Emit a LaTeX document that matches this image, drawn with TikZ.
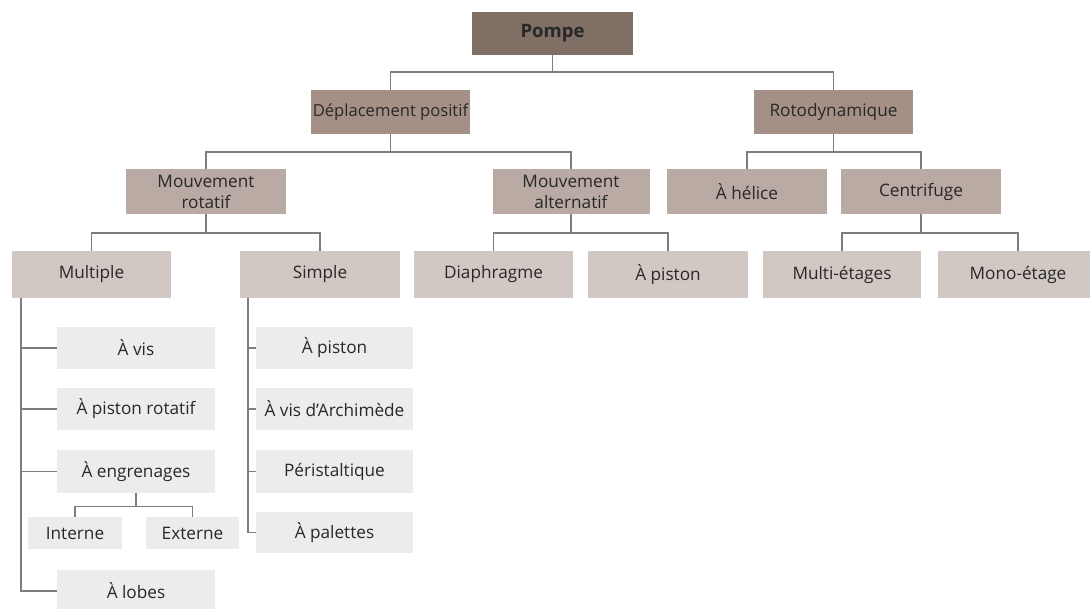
\documentclass[tikz,border=0pt]{standalone}
\usepackage{fontspec}
\setmainfont{Open Sans}
\definecolor{cz}{RGB}{128,111,100}
\definecolor{cone}{RGB}{165,144,135}
\definecolor{ctwo}{RGB}{185,170,163}
\definecolor{cthree}{RGB}{210,200,195}
\definecolor{cleaf}{RGB}{236,236,236}
\definecolor{cline}{RGB}{125,125,125}
\definecolor{ctext}{RGB}{40,40,40}
\begin{document}
\begin{tikzpicture}[x=1pt,y=-1pt,
  box/.style={inner sep=0pt, outer sep=0pt, align=center, text=ctext,
    font=\fontsize{17.2}{21}\selectfont, minimum height=44pt},
  lvlzero/.style={box, fill=cz, minimum width=161pt, minimum height=43pt,
    font=\fontsize{18.5}{21}\selectfont\bfseries},
  lvlone/.style={box, fill=cone, minimum width=159pt},
  lvltwo/.style={box, fill=ctwo, minimum width=159pt, minimum height=45pt},
  lvlthree/.style={box, fill=cthree, minimum width=159pt, minimum height=47pt},
  leaf/.style={box, fill=cleaf, minimum width=158pt, minimum height=42pt},
  smallleaf/.style={box, fill=cleaf, minimum width=94pt, minimum height=32pt},
  conn/.style={draw=cline, line width=1.1pt}]
\useasboundingbox[fill=white] (0,0) rectangle (1090,609);

\node[lvlzero] (pompe) at (552.5,33.5) {Pompe};
\node[lvlone] (dep) at (390.5,112) {\fontsize{16.6}{21}\selectfont Déplacement positif};
\node[lvlone] (roto) at (833.5,112) {Rotodynamique};

\node[lvltwo, minimum width=160pt] (mrot) at (206,191.5) {Mouvement\\rotatif};
\node[lvltwo, minimum width=157pt] (malt) at (571,191.5) {Mouvement\\alternatif};
\node[lvltwo, minimum width=160pt] (helice) at (747,191.5) {À hélice};
\node[lvltwo, minimum width=160pt] (centr) at (921,191.5) {Centrifuge};

\node[lvlthree] (multiple) at (91.5,274.5) {Multiple};
\node[lvlthree, minimum width=160pt] (simple) at (320,274.5) {Simple};
\node[lvlthree] (diaph) at (493.5,274.5) {Diaphragme};
\node[lvlthree, minimum width=160pt] (piston) at (668,274.5) {À piston};
\node[lvlthree, minimum width=158pt] (multi) at (842,274.5) {Multi-étages};
\node[lvlthree, minimum width=160pt] (mono) at (1018,274.5) {Mono-étage};

\node[leaf] (avis) at (136,348) {À vis};
\node[leaf] (apr) at (136,409) {À piston rotatif};
\node[leaf] (aeng) at (136,471.5) {À engrenages};
\node[smallleaf] (interne) at (75,533) {Interne};
\node[smallleaf, minimum width=93pt] (externe) at (192.5,533) {Externe};
\node[leaf] (alobes) at (136,591) {À lobes};

\node[leaf, minimum width=157pt] (spiston) at (334.5,348) {À piston};
\node[leaf, minimum width=157pt] (arch) at (334.5,409) {À vis d’Archimède};
\node[leaf, minimum width=157pt] (peri) at (334.5,471.5) {Péristaltique};
\node[leaf, minimum width=157pt, minimum height=41pt] (pal) at (334.5,532.5) {À palettes};

% connectors
\draw[conn] (pompe.south) -- ++(0,17) -| (dep.north);
\draw[conn] (pompe.south) -- ++(0,17) -| (roto.north);
\draw[conn] (dep.south) -- ++(0,18) -| (mrot.north);
\draw[conn] (dep.south) -- ++(0,18) -| (malt.north);
\draw[conn] (roto.south) -- ++(0,18) -| (helice.north);
\draw[conn] (roto.south) -- ++(0,18) -| (centr.north);
\draw[conn] (mrot.south) -- ++(0,19) -| (multiple.north);
\draw[conn] (mrot.south) -- ++(0,19) -| (simple.north);
\draw[conn] (malt.south) -- ++(0,19) -| (diaph.north);
\draw[conn] (malt.south) -- ++(0,19) -| (piston.north);
\draw[conn] (centr.south) -- ++(0,19) -| (multi.north);
\draw[conn] (centr.south) -- ++(0,19) -| (mono.north);

\coordinate (mtop) at ([xshift=9pt]multiple.south west);
\draw[conn] (mtop) |- (alobes.west);
\draw[conn] (avis.west) -- (avis.west -| mtop);
\draw[conn] (apr.west) -- (apr.west -| mtop);
\draw[conn] (aeng.west) -- (aeng.west -| mtop);
\draw[conn] (aeng.south) -- ++(0,14) -| (interne.north);
\draw[conn] (aeng.south) -- ++(0,14) -| (externe.north);

\coordinate (stop) at ([xshift=8pt]simple.south west);
\draw[conn] (stop) |- (pal.west);
\draw[conn] (spiston.west) -- (spiston.west -| stop);
\draw[conn] (arch.west) -- (arch.west -| stop);
\draw[conn] (peri.west) -- (peri.west -| stop);
\end{tikzpicture}
\end{document}
